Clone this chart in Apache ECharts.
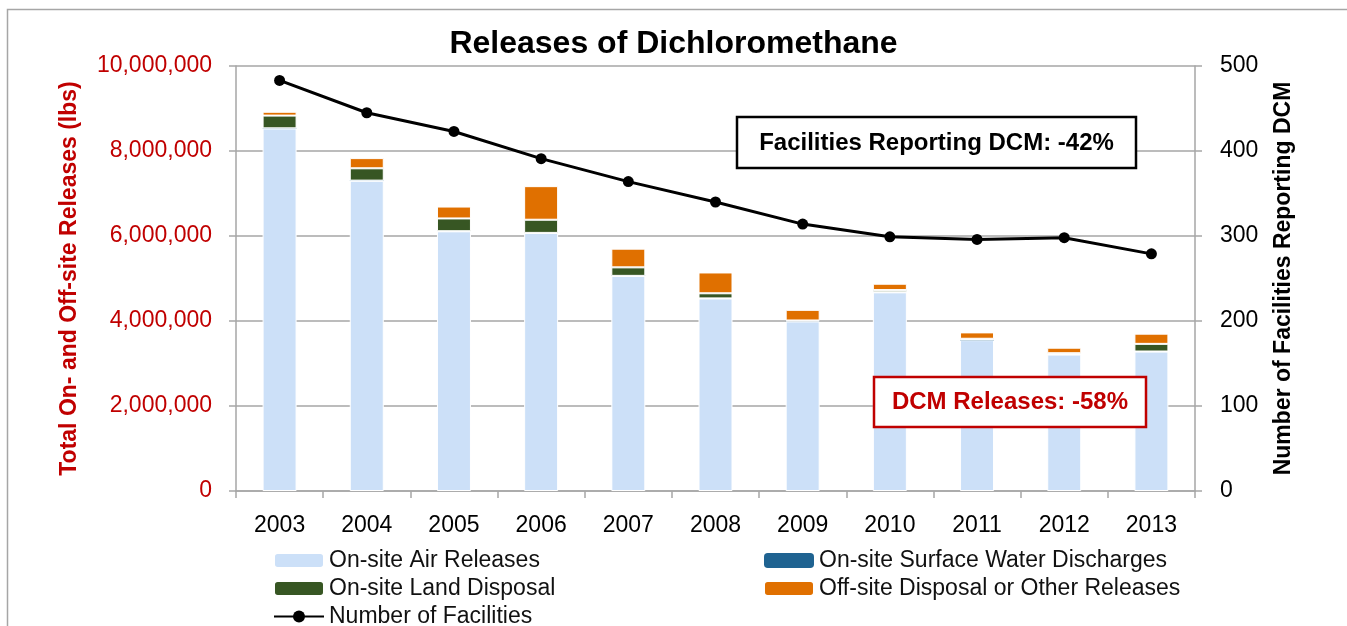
<!DOCTYPE html>
<html>
<head>
<meta charset="utf-8">
<title>Releases of Dichloromethane</title>
<script src="https://cdn.jsdelivr.net/npm/echarts@6/dist/echarts.min.js"></script>
<style>
  html, body { margin: 0; padding: 0; background: #fff; }
  #chart { width: 1347px; height: 626px; }
</style>
</head>
<body>
<div id="chart"></div>
<script>
// data
var years = ['2003', '2004', '2005', '2006', '2007', '2008', '2009', '2010', '2011', '2012', '2013'];
var airReleases = [8530000, 7300000, 6110000, 6070000, 5060000, 4530000, 3990000, 4675000, 3550000, 3210000, 3280000];
var waterDischarges = [3000, 3000, 3000, 3000, 2000, 2000, 2000, 2000, 2000, 2000, 2000];
var landDisposal = [300000, 290000, 300000, 310000, 200000, 120000, 20000, 50000, 30000, 30000, 180000];
var offsiteReleases = [90000, 240000, 280000, 790000, 440000, 490000, 250000, 150000, 150000, 130000, 240000];
var facilities = [483, 445, 423, 391, 364, 340, 314, 299, 296, 298, 279];
var leftTicks = [0, 10000000, 2000000];
var rightTicks = [0, 500, 100];

var font = 'Liberation Sans';
var red = '#C00000';
var axisGrey = '#a6a6a6';

function commas(v) {
    return String(v).replace(/\B(?=(\d{3})+(?!\d))/g, ',');
}

var chart = echarts.init(document.getElementById('chart'));

var barStyle = function (color) {
    return { color: color, borderColor: '#fff', borderWidth: 1 };
};

var legendText = { fontFamily: font, fontSize: 23, color: '#111' };

var option = {
    animation: false,
    textStyle: { fontFamily: font },
    title: {
        text: 'Releases of Dichloromethane',
        left: 'center',
        top: 23,
        textStyle: { fontFamily: font, fontSize: 32, fontWeight: 'bold', color: '#000' }
    },
    grid: { left: 236, right: 152, top: 66, bottom: 135 },
    legend: [{
        orient: 'vertical',
        left: 268,
        top: 544,
        height: 150,
        itemWidth: 50,
        itemHeight: 15,
        itemGap: 5,
        textStyle: legendText,
        data: ['On-site Air Releases', 'On-site Land Disposal', 'Number of Facilities']
    }, {
        orient: 'vertical',
        left: 758,
        top: 544,
        height: 150,
        itemWidth: 50,
        itemHeight: 15,
        itemGap: 5,
        textStyle: legendText,
        data: ['On-site Surface Water Discharges', 'Off-site Disposal or Other Releases']
    }],
    xAxis: {
        type: 'category',
        data: years,
        axisLine: { lineStyle: { color: axisGrey, width: 1.5 } },
        axisTick: { show: true, length: 7, lineStyle: { color: axisGrey, width: 1.5 } },
        axisLabel: { fontSize: 23, color: '#000', margin: 23 }
    },
    yAxis: [{
        type: 'value',
        min: leftTicks[0],
        max: leftTicks[1],
        interval: leftTicks[2],
        name: 'Total On- and Off-site Releases (lbs)',
        nameLocation: 'middle',
        nameRotate: 90,
        nameGap: 155,
        nameTextStyle: { fontFamily: font, fontSize: 23, fontWeight: 'bold', color: red },
        axisLine: { show: true, lineStyle: { color: axisGrey, width: 1.5 } },
        axisTick: { show: true, length: 7, lineStyle: { color: axisGrey, width: 1.5 } },
        axisLabel: { fontSize: 23, color: red, margin: 24, formatter: commas },
        splitLine: { lineStyle: { color: axisGrey, width: 1.5 } }
    }, {
        type: 'value',
        min: rightTicks[0],
        max: rightTicks[1],
        interval: rightTicks[2],
        name: 'Number of Facilities Reporting DCM',
        nameLocation: 'middle',
        nameRotate: 90,
        nameGap: 77,
        nameTextStyle: { fontFamily: font, fontSize: 23, fontWeight: 'bold', color: '#000' },
        axisLine: { show: true, lineStyle: { color: axisGrey, width: 1.5 } },
        axisTick: { show: true, length: 7, lineStyle: { color: axisGrey, width: 1.5 } },
        axisLabel: { fontSize: 23, color: '#000', margin: 25 },
        splitLine: { show: false }
    }],
    series: [{
        name: 'On-site Air Releases',
        type: 'bar',
        stack: 'rel',
        barWidth: 34,
        itemStyle: barStyle('#CCE0F8'),
        data: airReleases
    }, {
        name: 'On-site Surface Water Discharges',
        type: 'bar',
        stack: 'rel',
        itemStyle: { color: '#1F6391' },
        data: waterDischarges
    }, {
        name: 'On-site Land Disposal',
        type: 'bar',
        stack: 'rel',
        itemStyle: barStyle('#375623'),
        data: landDisposal
    }, {
        name: 'Off-site Disposal or Other Releases',
        type: 'bar',
        stack: 'rel',
        itemStyle: barStyle('#E07000'),
        data: offsiteReleases
    }, {
        name: 'Number of Facilities',
        type: 'line',
        yAxisIndex: 1,
        z: 5,
        symbol: 'circle',
        symbolSize: 11,
        lineStyle: { color: '#000', width: 3 },
        itemStyle: { color: '#000' },
        data: facilities
    }],
    graphic: [{
        // chart frame
        type: 'rect',
        silent: true,
        z: -1,
        shape: { x: 7.5, y: 9.5, width: 1400, height: 700 },
        style: { fill: 'none', stroke: axisGrey, lineWidth: 1.5 }
    }, {
        type: 'rect',
        z: 100,
        shape: { x: 737, y: 117, width: 399, height: 51 },
        style: { fill: '#fff', stroke: '#000', lineWidth: 2.5 }
    }, {
        type: 'text',
        z: 101,
        x: 936.5,
        y: 143,
        style: {
            text: 'Facilities Reporting DCM: -42%',
            fontFamily: font, fontSize: 24, fontWeight: 'bold',
            fill: '#000', align: 'center', verticalAlign: 'middle'
        }
    }, {
        type: 'rect',
        z: 100,
        shape: { x: 874, y: 377, width: 272, height: 50 },
        style: { fill: '#fff', stroke: red, lineWidth: 2.5 }
    }, {
        type: 'text',
        z: 101,
        x: 1010,
        y: 402,
        style: {
            text: 'DCM Releases: -58%',
            fontFamily: font, fontSize: 24, fontWeight: 'bold',
            fill: red, align: 'center', verticalAlign: 'middle'
        }
    }]
};

chart.setOption(option);
</script>
</body>
</html>
